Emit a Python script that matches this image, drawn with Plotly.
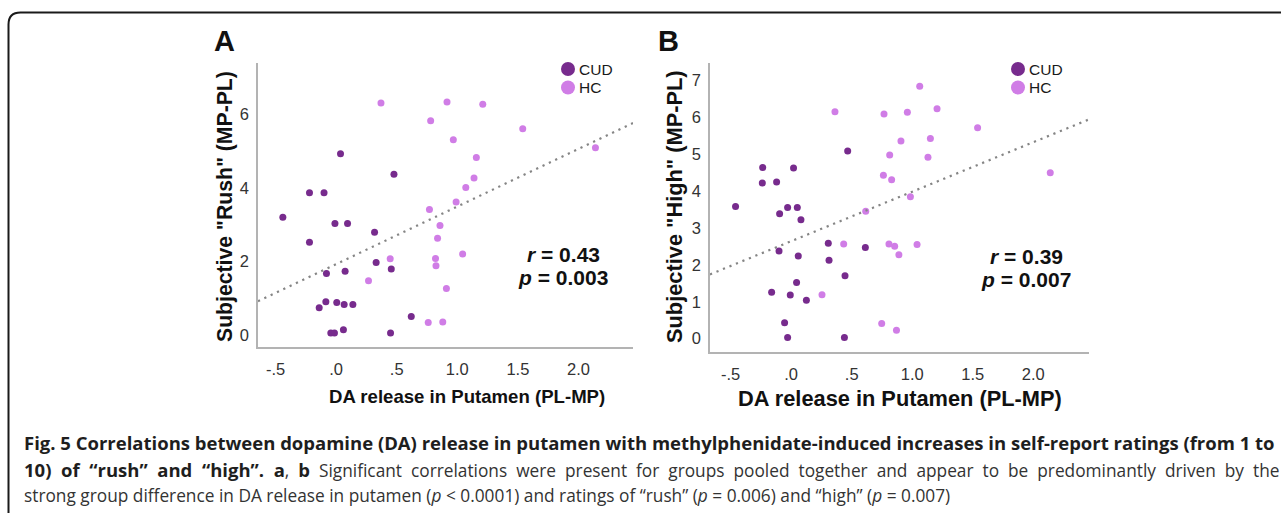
import numpy as np
import plotly.graph_objects as go

W, H = 1281, 513

# ---------------- data ----------------
# Panel A: Subjective "Rush"
a_cud_x = [0.036, 0.477, -0.22, -0.10, -0.44, -0.22, -0.01, 0.094, 0.317, 0.33, 0.455, -0.08,
           0.074, -0.14, -0.085, 0.005, 0.066, 0.138, -0.044, -0.014, 0.06, 0.449, 0.62]
a_cud_y = [4.93, 4.37, 3.87, 3.87, 3.20, 2.52, 3.03, 3.03, 2.79, 1.97, 1.79, 1.67,
           1.73, 0.74, 0.90, 0.88, 0.83, 0.83, 0.05, 0.05, 0.14, 0.05, 0.50]
a_hc_x = [0.37, 0.915, 0.78, 1.21, 1.54, 0.967, 1.157, 1.138, 1.07, 0.99, 0.77, 0.857,
          0.837, 0.82, 0.824, 0.91, 1.044, 0.76, 0.88, 0.446, 0.267, 2.14]
a_hc_y = [6.31, 6.34, 5.83, 6.28, 5.61, 5.31, 4.83, 4.27, 4.01, 3.62, 3.41, 2.98,
          2.63, 2.08, 1.88, 1.26, 2.20, 0.34, 0.35, 2.07, 1.47, 5.09]

# Panel B: Subjective "High"
b_cud_x = [0.467, -0.235, 0.02, -0.238, -0.12, -0.459, -0.095, -0.029, 0.051, 0.081, -0.10, 0.059,
           0.307, 0.313, 0.613, 0.445, 0.045, -0.161, -0.007, 0.126, -0.054, -0.029, 0.44]
b_cud_y = [5.08, 4.63, 4.62, 4.21, 4.24, 3.58, 3.38, 3.55, 3.55, 3.22, 2.37, 2.24,
           2.58, 2.12, 2.47, 1.70, 1.52, 1.26, 1.18, 1.04, 0.43, 0.035, 0.035]
b_hc_x = [0.362, 0.767, 0.814, 0.762, 0.83, 0.616, 0.434, 0.808, 0.855, 0.89, 0.255, 0.748,
          0.87, 1.062, 0.96, 1.205, 1.54, 0.907, 1.15, 1.13, 0.985, 2.14, 1.04]
b_hc_y = [6.14, 6.08, 4.97, 4.42, 4.30, 3.45, 2.56, 2.56, 2.50, 2.27, 1.19, 0.41,
          0.23, 6.83, 6.13, 6.22, 5.71, 5.35, 5.42, 4.91, 3.84, 4.49, 2.55]

stats_a = ["0.43", "0.003"]
stats_b = ["0.39", "0.007"]

xtick_vals = [-0.5, 0.0, 0.5, 1.0, 1.5, 2.0]
xtick_text = ["-.5", ".0", ".5", "1.0", "1.5", "2.0"]
a_ytick_vals = [0, 2, 4, 6]
b_ytick_vals = [0, 1, 2, 3, 4, 5, 6, 7]
groups = ["CUD", "HC"]

# ---------------- styling ----------------
C_CUD = "#772b8d"
C_HC = "#d07de6"
FONT = "Liberation Sans, Arial, sans-serif"
AX_COL = "#b3b3b3"

xa_range = [-0.645, 2.45]
ya_range = [-0.33, 7.4]
xb_range = [-0.67, 2.46]
yb_range = [-0.36, 7.46]


def px(x):
    return x / W


def py(y):
    return 1 - y / H


fig = go.Figure()

def add_panel(xc, yc, xh, yh, xr, xaxis, yaxis):
    for xs, ys, col, name in [(xc, yc, C_CUD, "CUD"), (xh, yh, C_HC, "HC")]:
        fig.add_trace(go.Scatter(x=xs, y=ys, mode="markers", name=name, showlegend=False,
                                 marker=dict(color=col, size=7, line=dict(width=0)),
                                 xaxis=xaxis, yaxis=yaxis))
    allx = np.array(xc + xh)
    ally = np.array(yc + yh)
    slope, icpt = np.polyfit(allx, ally, 1)
    lx = np.array(xr)
    fig.add_trace(go.Scatter(x=lx, y=slope * lx + icpt, mode="lines", showlegend=False,
                             line=dict(color="#858585", width=2.2, dash="2.2px,4.8px"),
                             xaxis=xaxis, yaxis=yaxis, hoverinfo="skip"))

add_panel(a_cud_x, a_cud_y, a_hc_x, a_hc_y, xa_range, "x", "y")
add_panel(b_cud_x, b_cud_y, b_hc_x, b_hc_y, xb_range, "x2", "y2")

axis_common = dict(showline=True, linecolor=AX_COL, linewidth=1.5, showgrid=False,
                   zeroline=False, ticks="", tickfont=dict(family=FONT, size=16.5, color="#333333"))

fig.update_layout(
    width=W, height=H,
    margin=dict(l=0, r=0, t=0, b=0),
    paper_bgcolor="white", plot_bgcolor="white",
    showlegend=False,
    xaxis=dict(domain=[px(258), px(633)], range=xa_range, tickvals=xtick_vals, ticktext=xtick_text,
               anchor="y", ticklabelstandoff=6, **axis_common),
    yaxis=dict(domain=[py(347), py(63)], range=ya_range, tickvals=a_ytick_vals,
               anchor="x", ticklabelstandoff=4, **axis_common),
    xaxis2=dict(domain=[px(710), px(1089)], range=xb_range, tickvals=xtick_vals, ticktext=xtick_text,
                anchor="y2", ticklabelstandoff=6, **axis_common),
    yaxis2=dict(domain=[py(352), py(63)], range=yb_range, tickvals=b_ytick_vals,
                anchor="x2", ticklabelstandoff=4, **axis_common),
)

ann = []
def add_text(x, y, text, size, bold=True, color="#111", angle=0, xanchor="center", family=FONT):
    ann.append(dict(x=px(x), y=py(y), xref="paper", yref="paper", text=text, showarrow=False,
                    xanchor=xanchor, yanchor="middle", textangle=angle,
                    font=dict(family=family, size=size, color=color,
                              weight="bold" if bold else "normal")))

# panel letters
add_text(224, 41, "A", 29)
add_text(668, 41, "B", 29)
# axis titles
add_text(467, 396, "DA release in Putamen (PL-MP)", 18.6)
add_text(900, 398, "DA release in Putamen (PL-MP)", 21.8)
add_text(225, 207, 'Subjective "Rush" (MP-PL)', 21.2, angle=-90)
add_text(675, 207, 'Subjective "High" (MP-PL)', 21.8, angle=-90)
# stats
add_text(563, 254, "<i>r</i> = " + stats_a[0], 21)
add_text(563, 277, "<i>p</i> = " + stats_a[1], 21)
add_text(1026, 256, "<i>r</i> = " + stats_b[0], 21)
add_text(1026, 279, "<i>p</i> = " + stats_b[1], 21)

# legends (marker shapes + labels)
shapes = []
for (lx, ly0) in [(568, 69), (1018, 69)]:
    for i, (g, col) in enumerate(zip(groups, [C_CUD, C_HC])):
        cy = ly0 + i * 18.5
        shapes.append(dict(type="circle", xref="paper", yref="paper",
                           x0=px(lx - 7), x1=px(lx + 7), y0=py(cy + 7), y1=py(cy - 7),
                           fillcolor=col, line=dict(width=0)))
        add_text(lx + 9, cy, g, 15.5, bold=False, color="#1a1a1a", xanchor="left")

# frame with rounded top-left corner
r = 12
shapes.append(dict(type="path", xref="paper", yref="paper",
                   path=f"M {px(8.5)} {py(520)} L {px(8.5)} {py(12.5 + r)} "
                        f"Q {px(8.5)} {py(12.5)} {px(8.5 + r)} {py(12.5)} L {px(1290)} {py(12.5)}",
                   line=dict(color="#1a1a1a", width=2)))

# caption (justified text: widen word gaps on line 2)
CAP = "'Open Sans', sans-serif"
B0 = "<span style='font-size:18.5px;color:#1e1e1e'><b>"
B1 = "</b></span>"
J = " &nbsp;"


def just(s):
    return s.replace(" ", J)


cap1 = B0 + "Fig. 5 Correlations between dopamine (DA) release in putamen with methylphenidate-induced increases in self-report ratings (from 1 to" + B1
cap2 = (B0 + just("10) of “rush” and “high”. a") + B1 + "," + J + B0 + "b" + B1 + J +
        just("Significant correlations were present for groups pooled "
             "together and appear to be predominantly driven by the"))
cap3 = ("strong group difference in DA release in putamen (<i>p</i> &lt; 0.0001) and ratings of “rush” "
        "(<i>p</i> = 0.006) and “high” (<i>p</i> = 0.007)")
for yy, t in [(442, cap1), (469, cap2), (495, cap3)]:
    ann.append(dict(x=px(22), y=py(yy), xref="paper", yref="paper", text=t, showarrow=False,
                    xanchor="left", yanchor="middle",
                    font=dict(family=CAP, size=17.3, color="#333333")))

fig.update_layout(annotations=ann, shapes=shapes)
fig.write_html("out.html", config={"displayModeBar": False},
               post_script="document.body.style.margin='0';")
